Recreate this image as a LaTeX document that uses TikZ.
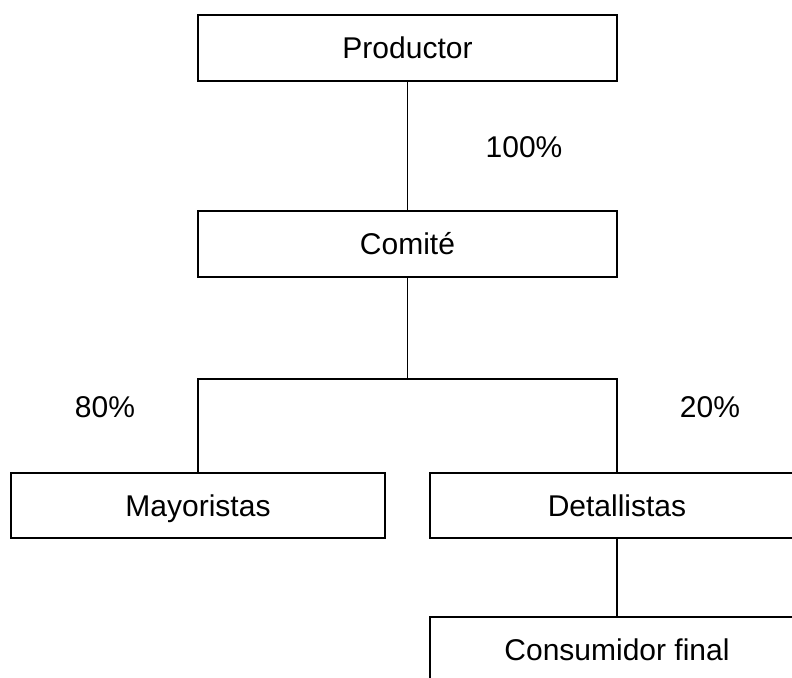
\documentclass[tikz,border=0pt]{standalone}
\usepackage{fontspec}
\setmainfont{Liberation Sans}
\tikzset{
  caja/.style={draw, line width=2pt, minimum height=66pt, inner sep=0pt, text height=21.5pt, text depth=0pt},
  linea/.style={line width=1.3pt},
  pct/.style={inner sep=0pt, text height=21.5pt, text depth=0pt}
}
\begin{document}
\begin{tikzpicture}[x=1pt,y=-1pt,font=\fontsize{30}{36}\selectfont]
                \useasboundingbox (0,0) rectangle (792,677);
                \clip (0,0) rectangle (792,677);
                \node[caja, minimum width=419pt] (productor) at (407.5,48) {Productor};
                \node[caja, minimum width=419pt] (comite) at (407.5,244) {Comité};
                \node[caja, minimum width=374pt, minimum height=65pt] (mayoristas) at (198,505.5) {Mayoristas};
                \node[caja, minimum width=374pt, minimum height=65pt] (detallistas) at (617,505.5) {Detallistas};
                \node[caja, minimum width=374pt] (consumidor) at (617,650) {Consumidor final};
                \coordinate (split) at (407.5,379);
                \draw[linea] (productor) -- (comite);
                \draw[linea] (comite) -- (split);
                \draw[linea] (mayoristas.north) |- (split) -| (detallistas.north);
                \draw[linea] (detallistas) -- (consumidor);
                \foreach \n/\x/\y/\t in {cien/524/147/100\%, ochenta/105/407/80\%, veinte/710/407/20\%}
                    \node[pct] (\n) at (\x,\y) {\t};
    \end{tikzpicture}
\end{document}
